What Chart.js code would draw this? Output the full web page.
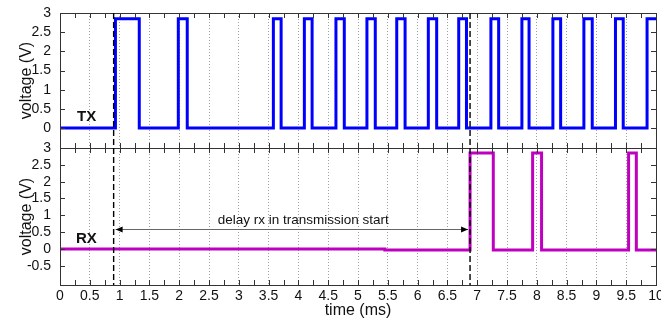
<!DOCTYPE html>
<html>
<head>
<meta charset="utf-8">
<script src="https://cdn.jsdelivr.net/npm/chart.js@4/dist/chart.umd.min.js"></script>
<style>
html, body { margin: 0; padding: 0; background: #fff; }
#wrap { width: 661px; height: 322px; }
</style>
</head>
<body>
<div id="wrap"><canvas id="signals"></canvas></div>
<script>
// switching times (ms) and the level that follows each one
var txTime = [0, 0.93, 1.33, 1.985, 2.135, 3.58, 3.71, 4.10, 4.23, 4.63, 4.77, 5.15, 5.29, 5.65, 5.79,
              6.18, 6.32, 6.69, 6.82, 7.23, 7.36, 7.75, 7.87, 8.27, 8.40, 8.79, 8.93, 9.32, 9.45, 9.85, 10];
var txVolt = [0, 2.85, 0, 2.85, 0, 2.85, 0, 2.85, 0, 2.85, 0, 2.85, 0, 2.85, 0,
              2.85, 0, 2.85, 0, 2.85, 0, 2.85, 0, 2.85, 0, 2.85, 0, 2.85, 0, 2.85, 2.85];
var rxTime = [0, 5.45, 6.88, 7.27, 7.93, 8.08, 9.54, 9.67, 10];
var rxVolt = [0, -0.03, 2.85, -0.03, 2.85, -0.03, 2.85, -0.03, -0.03];

var xTicks = [0, 0.5, 1, 1.5, 2, 2.5, 3, 3.5, 4, 4.5, 5, 5.5, 6, 6.5, 7, 7.5, 8, 8.5, 9, 9.5, 10];
var txTicks = [0, 0.5, 1, 1.5, 2, 2.5, 3];
var rxTicks = [-0.5, 0, 0.5, 1, 1.5, 2, 2.5, 3];

// annotation positions
var txStart = 0.9;
var rxStart = 6.88;
var arrowLevel = 0.6;
var delayText = 'delay rx in transmission start';
var delayTextX = 4.08;

var FONT = "'Liberation Sans', Arial, sans-serif";

function toPoints(t, v) {
    return t.map(function (x, i) { return { x: x, y: v[i] }; });
}
function fmt(v) { return String(v); }

// frame, inward ticks, dashed markers, arrow and labels
var extras = {
    id: 'extras',
    afterDatasetsDraw: function (chart) {
        var ctx = chart.ctx;
        var x = chart.scales.x, yT = chart.scales.yTop, yB = chart.scales.yBot;
        ctx.save();
        ctx.strokeStyle = '#333';
        ctx.lineWidth = 1;
        [yT, yB].forEach(function (s, k) {
            ctx.strokeRect(x.left + 0.5, s.top + 0.5, x.right - x.left, s.bottom - s.top);
            ctx.beginPath();
            for (var v = 0; v <= 10.001; v += 0.25) {
                var px = Math.round(x.getPixelForValue(v)) + 0.5;
                ctx.moveTo(px, s.top); ctx.lineTo(px, s.top + 5);
                ctx.moveTo(px, s.bottom); ctx.lineTo(px, s.bottom - 5);
            }
            var list = k === 0 ? txTicks : rxTicks;
            list.forEach(function (v) {
                var py = Math.round(s.getPixelForValue(v)) + 0.5;
                ctx.moveTo(x.left, py); ctx.lineTo(x.left + 5, py);
                ctx.moveTo(x.right, py); ctx.lineTo(x.right - 5, py);
            });
            ctx.stroke();
        });

        // dashed start markers
        ctx.strokeStyle = '#000';
        ctx.lineWidth = 1.4;
        ctx.setLineDash([6, 3]);
        [txStart, rxStart].forEach(function (v) {
            var px = x.getPixelForValue(v);
            ctx.beginPath();
            ctx.moveTo(px, yT.top); ctx.lineTo(px, yB.bottom);
            ctx.stroke();
        });
        ctx.setLineDash([]);

        // delay arrow
        var ay = Math.round(yB.getPixelForValue(arrowLevel)) + 0.5;
        var ax1 = x.getPixelForValue(txStart) + 2, ax2 = x.getPixelForValue(rxStart) - 2;
        ctx.strokeStyle = '#666';
        ctx.lineWidth = 1;
        ctx.beginPath();
        ctx.moveTo(ax1, ay); ctx.lineTo(ax2, ay);
        ctx.stroke();
        ctx.fillStyle = '#000';
        ctx.beginPath();
        ctx.moveTo(ax1, ay); ctx.lineTo(ax1 + 7, ay - 3); ctx.lineTo(ax1 + 7, ay + 3);
        ctx.closePath(); ctx.fill();
        ctx.beginPath();
        ctx.moveTo(ax2, ay); ctx.lineTo(ax2 - 7, ay - 3); ctx.lineTo(ax2 - 7, ay + 3);
        ctx.closePath(); ctx.fill();

        ctx.fillStyle = '#111';
        ctx.font = '13.5px ' + FONT;
        ctx.textAlign = 'center';
        ctx.textBaseline = 'bottom';
        ctx.fillText(delayText, x.getPixelForValue(delayTextX), ay - 2);

        ctx.font = 'bold 15px ' + FONT;
        ctx.textAlign = 'left';
        ctx.textBaseline = 'middle';
        ctx.fillText('TX', 77, yT.getPixelForValue(0.3));
        ctx.fillText('RX', 76, yB.getPixelForValue(0.3));
        ctx.restore();
    }
};

function yAxis(list, min, max, weight) {
    return {
        type: 'linear',
        position: 'left',
        stack: 'v',
        stackWeight: weight,
        min: min,
        max: max,
        grid: { display: false },
        border: { display: false },
        afterBuildTicks: function (s) { s.ticks = list.map(function (v) { return { value: v }; }); },
        afterFit: function (s) { s.width = 60; },
        ticks: { color: '#111', font: { family: FONT, size: 14 }, padding: 1, autoSkip: false, callback: fmt },
        title: { display: true, text: 'voltage (V)', color: '#111', font: { family: FONT, size: 16 }, padding: { top: 17, bottom: 0 } }
    };
}

new Chart(document.getElementById('signals'), {
    type: 'line',
    data: {
        datasets: [{
            label: 'TX',
            data: toPoints(txTime, txVolt),
            yAxisID: 'yTop',
            borderColor: '#0000ff',
            borderWidth: 3,
            stepped: 'before',
            pointRadius: 0
        }, {
            label: 'RX',
            data: toPoints(rxTime, rxVolt),
            yAxisID: 'yBot',
            borderColor: '#c000c0',
            borderWidth: 3,
            stepped: 'before',
            pointRadius: 0
        }]
    },
    options: {
        responsive: true,
        maintainAspectRatio: false,
        animation: false,
        layout: { padding: { top: 13, right: 5, left: 0, bottom: 0 } },
        plugins: { legend: { display: false }, tooltip: { enabled: false } },
        scales: {
            x: {
                type: 'linear',
                min: 0,
                max: 10,
                afterBuildTicks: function (s) { s.ticks = xTicks.map(function (v) { return { value: v }; }); },
                afterFit: function (s) { s.height = 37; s.paddingRight = 0; s.paddingLeft = 0; },
                grid: { color: '#a0a0a0', drawTicks: false },
                border: { display: false, dash: [1, 2] },
                ticks: { color: '#111', font: { family: FONT, size: 14 }, padding: 3, maxRotation: 0, autoSkip: false, callback: fmt },
                title: { display: true, text: 'time (ms)', color: '#111', font: { family: FONT, size: 16 }, padding: { top: 0, bottom: 2 } }
            },
            yBot: yAxis(rxTicks, -1.07, 3, 137),
            yTop: yAxis(txTicks, -0.52, 3, 135)
        }
    },
    plugins: [extras]
});
</script>
</body>
</html>
